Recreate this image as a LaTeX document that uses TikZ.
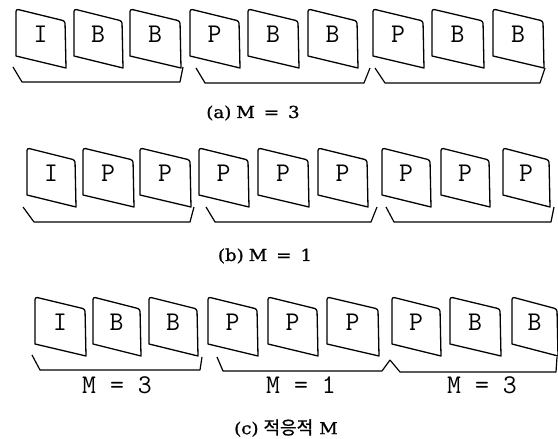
\documentclass[tikz,border=0pt]{standalone}
\usepackage{fontspec}
\newfontfamily\capfont[FakeStretch=1.1,FakeBold=1]{DejaVu Serif}
\newfontfamily\krfont[FakeBold=0.6]{Noto Sans CJK KR}
\newcommand\monofont{\ttfamily\addfontfeature{FakeStretch=1.12,FakeBold=1.6}}

\tikzset{
  framebox/.style={line width=1.3pt, line join=round},
  bracketline/.style={line width=1.2pt, line join=round},
  framelabel/.style={inner sep=0pt, font=\monofont\fontsize{27}{27}\selectfont},
  grouplabel/.style={inner sep=0pt, font=\monofont\fontsize{27}{27}\selectfont},
  caption/.style={inner sep=0pt, font=\capfont\fontsize{16.5}{16.5}\selectfont}
}

% one picture frame: name, left x, top y, right x, letter
\newcommand\picframe[5]{%
  \draw[framebox] (#2,#3+20) [rounded corners=2.5pt] -- (#2,#3) -- (#4,#3+12)
    [sharp corners] -- (#4+1,#3+59) -- (#2,#3+47) -- cycle;
  \node[framelabel] (#1) at ({(#2+#4)/2},#3+25.5) {#5};
}
% group bracket under three frames
\newcommand\groupbracket[8]{%
  \draw[bracketline] (#1,#2) -- (#3,#4) -- (#5,#4) -- (#7,#8);
}

\begin{document}
\begin{tikzpicture}[x=1pt,y=-1pt]
\useasboundingbox (0,0) rectangle (558,439);

% (a) M = 3
\picframe{a1}{16}{9}{65}{I}
\picframe{a2}{74}{9}{122}{B}
\picframe{a3}{130}{9}{180}{B}
\picframe{a4}{190}{9}{239}{P}
\picframe{a5}{248}{9}{298}{B}
\picframe{a6}{308}{9}{357}{B}
\picframe{a7}{373}{9}{423}{P}
\picframe{a8}{432}{9}{483}{B}
\picframe{a9}{493}{9}{543}{B}
\groupbracket{13}{67}{22}{82}{180}{}{183}{67}
\groupbracket{196}{68}{205}{83}{364}{}{370}{68}
\groupbracket{375}{68}{385}{83}{540}{}{545}{68}
\node[caption] (capa) at (253,113) {(a)\hspace{5pt}M\hspace{9pt}=\hspace{9pt}3};

% (b) M = 1
\picframe{b1}{27}{148}{75}{I}
\picframe{b2}{83}{148}{133}{P}
\picframe{b3}{140}{148}{190}{P}
\picframe{b4}{199}{148}{248}{P}
\picframe{b5}{258}{148}{308}{P}
\picframe{b6}{318}{148}{367}{P}
\picframe{b7}{382}{148}{430}{P}
\picframe{b8}{441}{148}{489}{P}
\picframe{b9}{503}{148}{549}{P}
\groupbracket{23}{207}{34}{222}{190}{}{194}{207}
\groupbracket{206}{207}{215}{222}{371}{}{377}{207}
\groupbracket{386}{207}{394}{222}{551}{}{554}{207}
\node[caption] (capb) at (265,256) {(b)\hspace{5pt}M\hspace{9pt}=\hspace{9pt}1};

% (c) adaptive M
\picframe{c1}{35}{297}{85}{I}
\picframe{c2}{93}{297}{140}{B}
\picframe{c3}{149}{297}{197}{B}
\picframe{c4}{208}{297}{257}{P}
\picframe{c5}{268}{297}{317}{P}
\picframe{c6}{327}{297}{378}{P}
\picframe{c7}{392}{297}{440}{P}
\picframe{c8}{450}{297}{500}{B}
\picframe{c9}{512}{297}{557}{B}
\groupbracket{32}{355}{40}{370}{200}{}{202}{357}
\groupbracket{217}{357}{223}{371}{382}{}{390}{360}
\groupbracket{390}{360}{400}{372}{556}{}{557}{357}
\node[grouplabel] (g1) at (117,385) {M = 3};
\node[grouplabel] (g2) at (301,385) {M = 1};
\node[grouplabel] (g3) at (482,385) {M = 3};
\node[caption] (capc) at (286,428) {(c)\hspace{5pt}{\krfont\fontsize{18}{18}\selectfont 적응적}\hspace{6pt}M};
\end{tikzpicture}
\end{document}
